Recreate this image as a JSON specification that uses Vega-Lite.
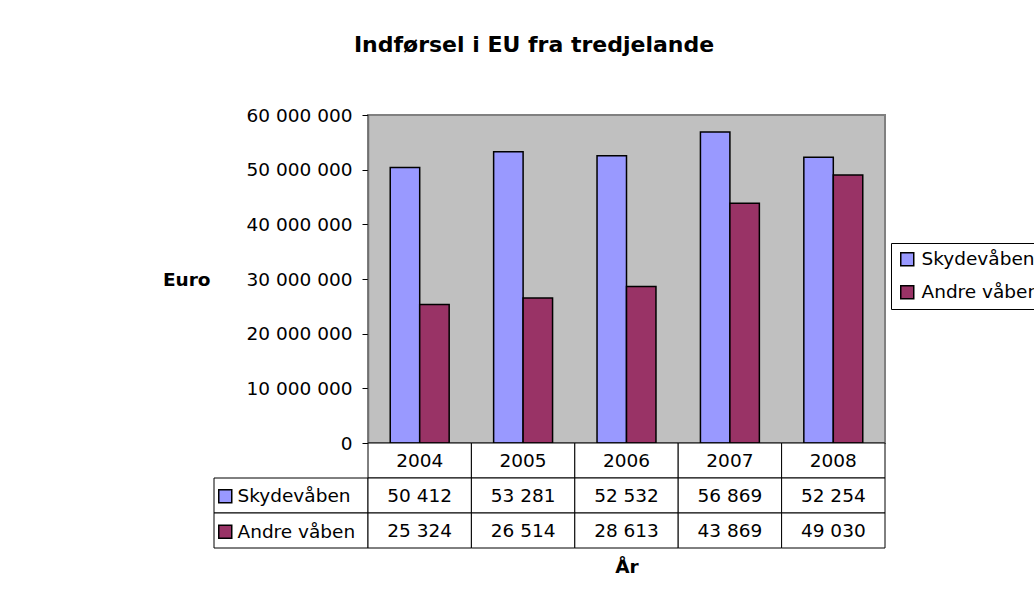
{
  "$schema": "https://vega.github.io/schema/vega-lite/v6.json",
  "padding": {"left": 161, "top": 34, "right": 0, "bottom": 0},
  "background": "white",
  "title": {"text": "Indførsel i EU fra tredjelande", "font": "DejaVu Sans", "fontSize": 22, "fontWeight": "bold", "color": "black", "anchor": "middle", "frame": "group", "offset": 48, "dx": 320},
  "data": {"values": [
    {"year": "2004", "series": "Skydevåben", "value": 50412},
    {"year": "2004", "series": "Andre våben", "value": 25324},
    {"year": "2005", "series": "Skydevåben", "value": 53281},
    {"year": "2005", "series": "Andre våben", "value": 26514},
    {"year": "2006", "series": "Skydevåben", "value": 52532},
    {"year": "2006", "series": "Andre våben", "value": 28613},
    {"year": "2007", "series": "Skydevåben", "value": 56869},
    {"year": "2007", "series": "Andre våben", "value": 43869},
    {"year": "2008", "series": "Skydevåben", "value": 52254},
    {"year": "2008", "series": "Andre våben", "value": 49030}
  ]},
  "columns": 2,
  "spacing": 0,
  "bounds": "flush",
  "align": "each",
  "resolve": {
    "scale": {"x": "independent", "y": "independent", "color": "independent", "xOffset": "independent"},
    "axis": {"x": "independent", "y": "independent"},
    "legend": {"color": "independent"}
  },
  "concat": [
    {
      "width": 154,
      "height": 328,
      "view": {"stroke": null},
      "mark": {"type": "point", "opacity": 0},
      "encoding": {}
    },
    {
      "width": 517,
      "height": 328,
      "view": {"fill": "#C0C0C0", "stroke": "#808080", "strokeWidth": 2},
      "mark": {"type": "bar", "stroke": "black", "strokeWidth": 1.5},
      "encoding": {
        "x": {"field": "year", "type": "nominal", "scale": {"paddingInner": 0.43, "paddingOuter": 0.215}, "axis": null},
        "xOffset": {"field": "series", "type": "nominal", "scale": {"domain": ["Skydevåben", "Andre våben"], "paddingInner": 0, "paddingOuter": 0}},
        "y": {
          "field": "value", "type": "quantitative",
          "scale": {"domain": [0, 60000], "nice": false},
          "axis": {
            "values": [0, 10000, 20000, 30000, 40000, 50000, 60000],
            "labelExpr": "format(datum.value * 1000, ',d')",
            "grid": false,
            "domainColor": "#707070", "domainWidth": 1.5,
            "tickColor": "black", "tickSize": 6, "tickWidth": 1,
            "labelPadding": 10, "labelFont": "DejaVu Sans", "labelFontSize": 18.5, "labelColor": "black",
            "title": "Euro", "titleAngle": 0, "titleAlign": "right", "titleBaseline": "middle",
            "titleFont": "DejaVu Sans", "titleFontSize": 18.5, "titleFontWeight": "bold", "titleColor": "black",
            "titlePadding": 36
          }
        },
        "color": {
          "field": "series", "type": "nominal",
          "scale": {"domain": ["Skydevåben", "Andre våben"], "range": ["#9999FF", "#993366"]},
          "legend": {
            "orient": "none", "legendX": 523, "legendY": 128, "title": null,
            "symbolType": "square", "symbolSize": 169, "symbolStrokeColor": "black", "symbolStrokeWidth": 1.5, "symbolOpacity": 1,
            "labelFont": "DejaVu Sans", "labelFontSize": 18.5, "labelColor": "black", "labelOffset": 5,
            "strokeColor": "black", "fillColor": "white", "padding": 7, "rowPadding": 13
          }
        }
      }
    },
    {
      "width": 154,
      "height": 105,
      "view": {"stroke": null},
      "transform": [{"aggregate": [{"op": "count", "as": "n"}], "groupby": ["series"]}],
      "layer": [
        {
          "mark": {"type": "rect", "fill": "white", "stroke": "black", "strokeWidth": 1},
          "encoding": {
            "y": {"field": "series", "type": "nominal", "scale": {"domain": ["year", "Skydevåben", "Andre våben"], "paddingInner": 0, "paddingOuter": 0}, "axis": null}
          }
        },
        {
          "mark": {"type": "point", "filled": true, "opacity": 0},
          "encoding": {
            "color": {
              "field": "series", "type": "nominal",
              "scale": {"domain": ["Skydevåben", "Andre våben"], "range": ["#9999FF", "#993366"]},
              "legend": {
                "orient": "none", "legendX": 2, "legendY": 44, "title": null,
                "symbolType": "square", "symbolSize": 169, "symbolStrokeColor": "black", "symbolStrokeWidth": 1.5, "symbolOpacity": 1,
                "labelFont": "DejaVu Sans", "labelFontSize": 18.5, "labelColor": "black", "labelOffset": 3,
                "padding": 0, "rowPadding": 15.5
              }
            }
          }
        }
      ]
    },
    {
      "width": 517,
      "height": 105,
      "view": {"stroke": null},
      "encoding": {
        "x": {
          "field": "year", "type": "nominal",
          "scale": {"paddingInner": 0, "paddingOuter": 0},
          "axis": {"title": "År", "labels": false, "ticks": false, "domain": false, "titleFont": "DejaVu Sans", "titleFontSize": 18.5, "titleFontWeight": "bold", "titleColor": "black", "titlePadding": 9}
        }
      },
      "layer": [
        {
          "transform": [{"filter": "datum.series === 'Skydevåben'"}],
          "mark": {"type": "rect", "fill": "white", "stroke": "black", "strokeWidth": 1},
          "encoding": {
            "y": {"datum": "year", "type": "nominal", "scale": {"domain": ["year", "Skydevåben", "Andre våben"], "paddingInner": 0, "paddingOuter": 0}, "axis": null}
          }
        },
        {
          "transform": [{"filter": "datum.series === 'Skydevåben'"}],
          "mark": {"type": "text", "font": "DejaVu Sans", "fontSize": 18.5, "color": "black"},
          "encoding": {
            "y": {"datum": "year", "type": "nominal"},
            "text": {"field": "year", "type": "nominal"}
          }
        },
        {
          "mark": {"type": "rect", "fill": "white", "stroke": "black", "strokeWidth": 1},
          "encoding": {
            "y": {"field": "series", "type": "nominal"}
          }
        },
        {
          "mark": {"type": "text", "font": "DejaVu Sans", "fontSize": 18.5, "color": "black"},
          "encoding": {
            "y": {"field": "series", "type": "nominal"},
            "text": {"field": "value", "type": "quantitative", "format": ",d"}
          }
        }
      ]
    }
  ],
  "config": {
    "locale": {"number": {"decimal": ",", "thousands": " ", "grouping": [3], "currency": ["", " €"]}},
    "font": "DejaVu Sans"
  }
}
